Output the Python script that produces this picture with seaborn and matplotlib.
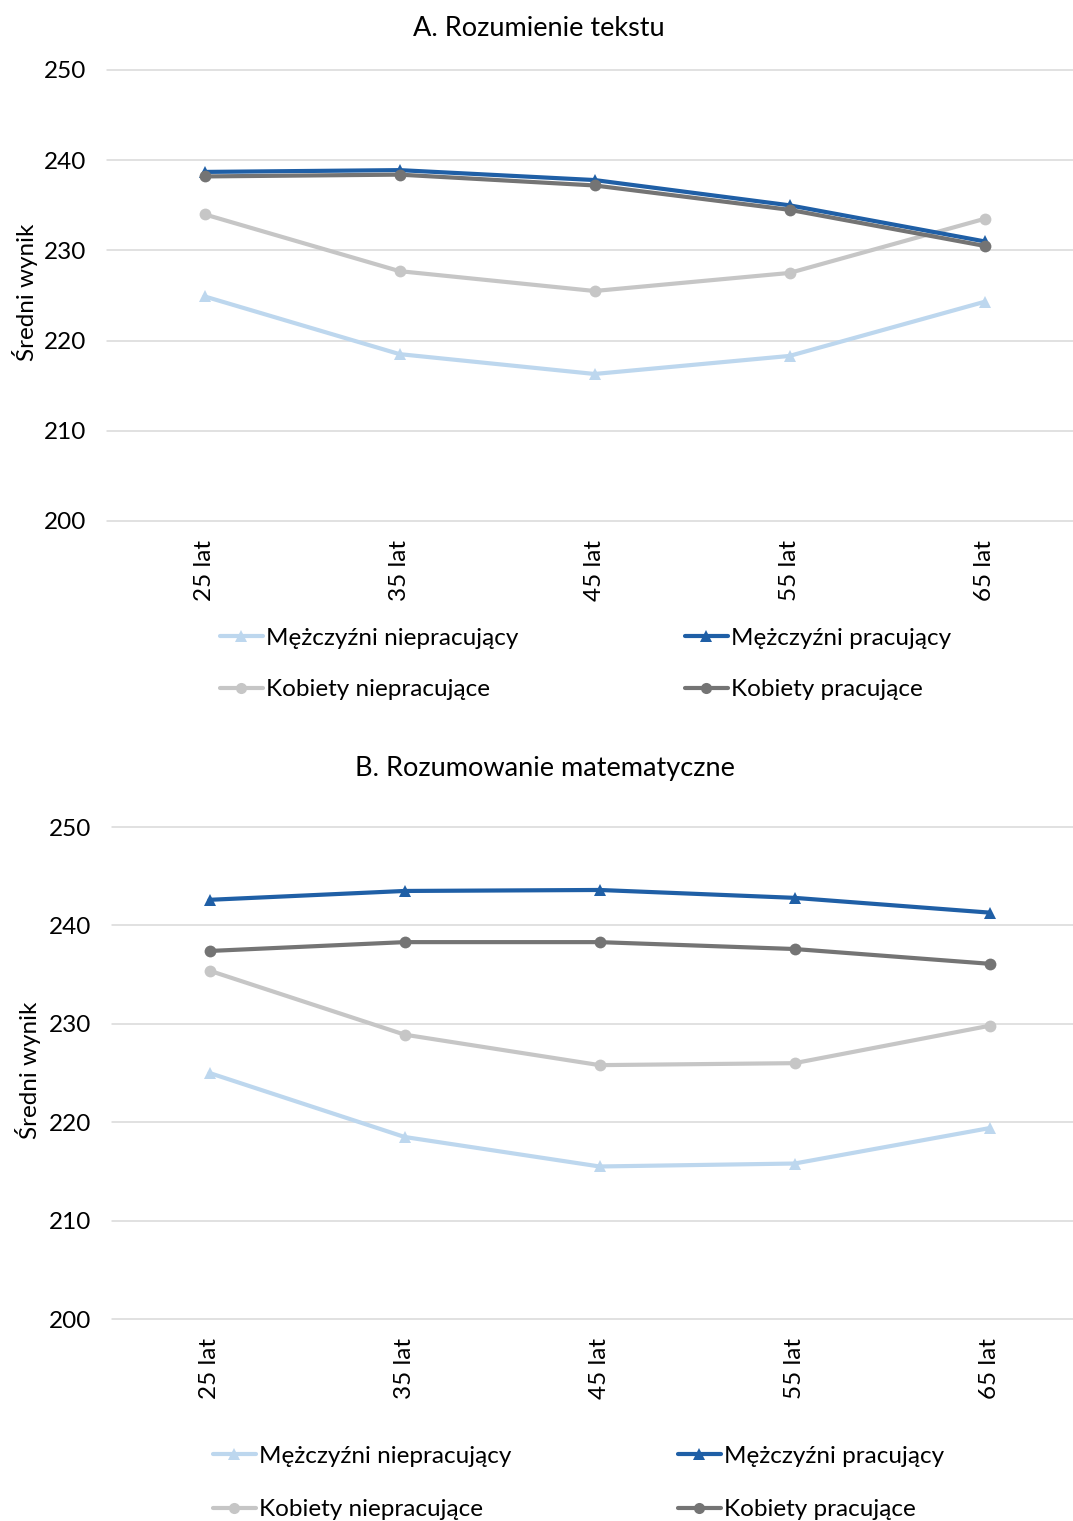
import numpy as np
import pandas as pd
import matplotlib
matplotlib.use("Agg")
import matplotlib.pyplot as plt
from matplotlib.lines import Line2D
import seaborn as sns

age_labels = ["25 lat", "35 lat", "45 lat", "55 lat", "65 lat"]
series_names = ["Mężczyźni niepracujący", "Mężczyźni pracujący",
                "Kobiety niepracujące", "Kobiety pracujące"]

# A. Rozumienie tekstu
read_men_nonwork = [224.9, 218.5, 216.3, 218.3, 224.3]
read_men_work = [238.7, 238.9, 237.8, 235.0, 231.0]
read_women_nonwork = [234.0, 227.7, 225.5, 227.5, 233.5]
read_women_work = [238.2, 238.4, 237.2, 234.5, 230.5]

# B. Rozumowanie matematyczne
math_men_nonwork = [225.0, 218.5, 215.5, 215.8, 219.4]
math_men_work = [242.6, 243.5, 243.6, 242.8, 241.3]
math_women_nonwork = [235.4, 228.9, 225.8, 226.0, 229.8]
math_women_work = [237.4, 238.3, 238.3, 237.6, 236.1]

y_ticks = [200, 210, 220, 230, 240, 250]

colors = {
    "Mężczyźni niepracujący": "#BDD7EE",
    "Mężczyźni pracujący": "#1F5FA6",
    "Kobiety niepracujące": "#C6C6C6",
    "Kobiety pracujące": "#747474",
}
markers = {
    "Mężczyźni niepracujący": "^",
    "Mężczyźni pracujący": "^",
    "Kobiety niepracujące": "o",
    "Kobiety pracujące": "o",
}

sns.set_theme(style="white")
plt.rcParams["font.family"] = ["Lato", "DejaVu Sans"]
TEXT = "#000000"
FS = 17.5
LW = 3.0


def make_frame(values):
    rows = []
    for name, vals in zip(series_names, values):
        for i, v in enumerate(vals):
            rows.append({"pos": i, "wiek": age_labels[i], "seria": name, "wynik": v})
    return pd.DataFrame(rows)


def draw_panel(ax, df):
    # draw back-to-front so the working series sit on top
    for name in ["Mężczyźni niepracujący", "Kobiety niepracujące",
                 "Mężczyźni pracujący", "Kobiety pracujące"]:
        sub = df[df["seria"] == name]
        sns.lineplot(data=sub, x="pos", y="wynik", ax=ax, color=colors[name],
                     marker=markers[name], markersize=8.5, markeredgewidth=0,
                     linewidth=LW, legend=False)
    ax.set_ylim(200, 250)
    ax.set_xlim(-0.5, 4.5)
    ax.set_yticks(y_ticks)
    ax.set_xticks(range(len(age_labels)))
    ax.set_xticklabels(age_labels, rotation=90, fontsize=FS, color=TEXT)
    ax.tick_params(axis="y", labelsize=FS, colors=TEXT, length=0, pad=15)
    ax.tick_params(axis="x", length=0, pad=14)
    ax.yaxis.grid(True, color="#D9D9D9", linewidth=1.1)
    for gl in ax.get_ygridlines():
        gl.set_clip_on(False)
    ax.set_axisbelow(True)
    for s in ax.spines.values():
        s.set_visible(False)
    ax.set_xlabel("")
    ax.set_ylabel("")


def legend_handles(order):
    return [Line2D([0], [0], color=colors[n], marker=markers[n], markersize=8,
                   markeredgewidth=0, linewidth=LW) for n in order]


W, H = 1073, 1521
fig = plt.figure(figsize=(W / 100, H / 100), dpi=100)

ax1 = fig.add_axes([107 / W, 1 - 521 / H, 975 / W, 451 / H])
ax2 = fig.add_axes([112 / W, 1 - 1319 / H, 975 / W, 492 / H])

draw_panel(ax1, make_frame([read_men_nonwork, read_men_work,
                            read_women_nonwork, read_women_work]))
draw_panel(ax2, make_frame([math_men_nonwork, math_men_work,
                            math_women_nonwork, math_women_work]))

TFS = 19.5
fig.text(539 / W, 1 - 28 / H, "A. Rozumienie tekstu", ha="center", va="center",
         fontsize=TFS, color=TEXT)
fig.text(545 / W, 1 - 769 / H, "B. Rozumowanie matematyczne", ha="center",
         va="center", fontsize=TFS, color=TEXT)
fig.text(25 / W, 1 - 292 / H, "Średni wynik", rotation=90, ha="center",
         va="center", fontsize=FS, color=TEXT)
fig.text(28 / W, 1 - 1070 / H, "Średni wynik", rotation=90, ha="center",
         va="center", fontsize=FS, color=TEXT)

# legend fills column-first, so order entries to read row by row
leg_order = [series_names[0], series_names[2], series_names[1], series_names[3]]
for ypix, xpix, lsp in [(664, 220, 1.25), (1483, 213, 1.32)]:
    fig.legend(handles=legend_handles(leg_order), labels=leg_order, ncol=2,
               loc="center left", bbox_to_anchor=(xpix / W, 1 - ypix / H),
               frameon=False, fontsize=FS, handlelength=1.75, handletextpad=0.15,
               columnspacing=6.85, labelspacing=lsp, labelcolor=TEXT,
               borderaxespad=0, borderpad=0)

fig.savefig("out.png", dpi=100)
